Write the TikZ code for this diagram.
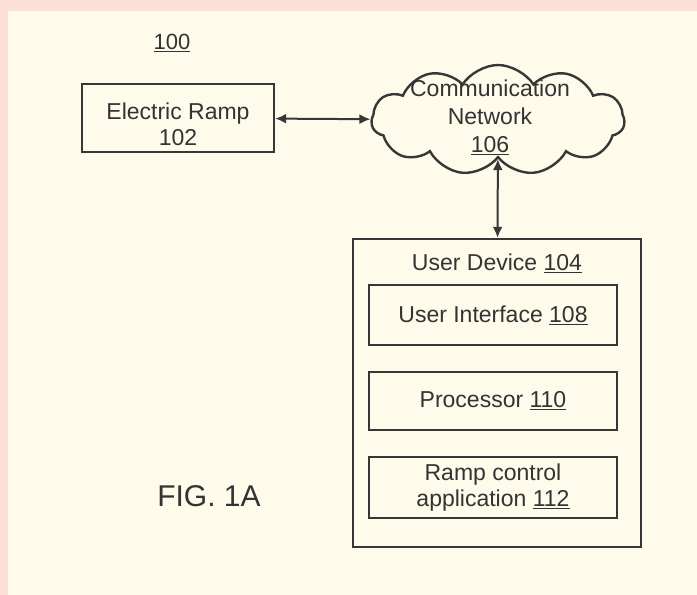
\documentclass[tikz,border=0pt]{standalone}
\usepackage{fontspec}
\setmainfont{Liberation Sans}
\usepackage{tikz}
\usetikzlibrary{shapes.symbols,arrows.meta}
\definecolor{pinkedge}{RGB}{252,224,214}
\definecolor{creampaper}{RGB}{255,251,234}
\definecolor{inkgray}{RGB}{55,55,55}

\begin{document}
\begin{tikzpicture}[x=1pt,y=-1pt]
		\fill[pinkedge] (0,0) rectangle (697,595);
		\fill[creampaper] (8,11) rectangle (697,595);
		\tikzstyle{block}=[draw=inkgray,line width=2.4pt,inner sep=0pt]
		\tikzstyle{txt}=[text=black!80,font=\fontsize{23}{26}\selectfont,align=center]
		\tikzstyle{link}=[draw=inkgray,line width=2pt,{Latex[length=11pt,width=10pt]}-{Latex[length=11pt,width=10pt]}]
		\node[txt,font=\fontsize{22}{26}\selectfont] (fig_num) at (172,43) {\underline{100}};
		\node[block,minimum width=192,minimum height=68] (ramp) at (178,118) {};
		\node[txt] (ramp_lbl) at (178,124) {Electric Ramp\\102};
		\node[block,cloud,cloud puffs=11,cloud puff arc=115,minimum width=253,minimum height=110] (net) at (498,120) {};
		\node[txt,font=\fontsize{23}{28}\selectfont] (net_lbl) at (490,117) {Communication\\Network\\\underline{106}};
		\node[block,minimum width=288,minimum height=308] (dev) at (497,393) {};
		\node[txt] (dev_lbl) at (497,263) {User Device \underline{104}};
		\node[block,txt,minimum width=248,minimum height=60] (ui) at (493,315) {User Interface \underline{108}};
		\node[block,txt,minimum width=248,minimum height=58] (proc) at (493,401) {Processor \underline{110}};
		\node[block,txt,minimum width=248,minimum height=61] (app) at (493,487.5) {Ramp control\\application \underline{112}};
		\node[txt,font=\fontsize{30}{34}\selectfont] (fig_lbl) at (209,496) {FIG. 1A};
		\draw[link] (ramp) -- (net);
		\draw[link] (net) -- (dev);
	\end{tikzpicture}
\end{document}
